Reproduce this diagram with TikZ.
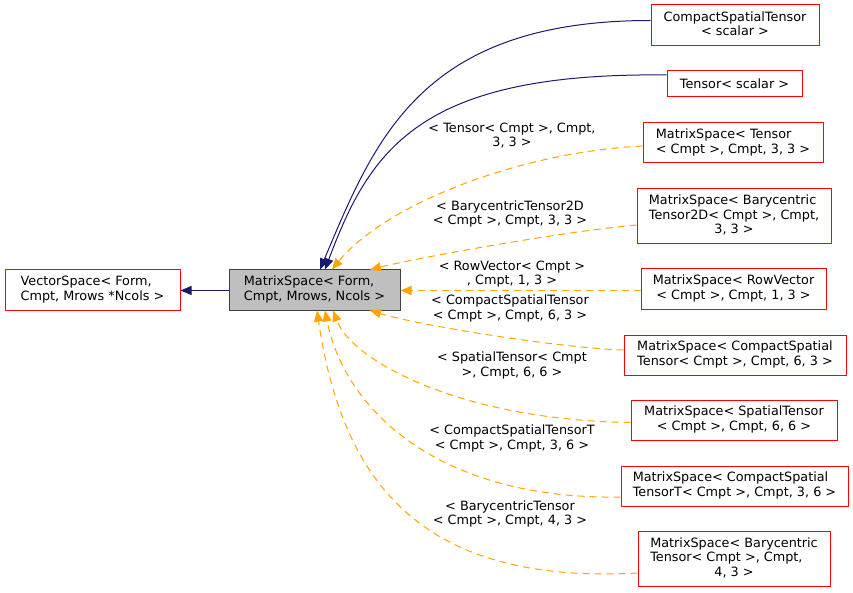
\documentclass[tikz,border=0pt]{standalone}
\usepackage{fontspec}
\setmainfont{DejaVu Sans}
\usetikzlibrary{arrows.meta,calc}
\definecolor{edgeblue}{HTML}{191970}
\definecolor{edgeorange}{HTML}{FFA500}
\definecolor{mainfill}{HTML}{BFBFBF}
\definecolor{mainborder}{HTML}{404040}
\newcommand{\dxbox}[1]{\begin{tabular}{@{}l@{}}#1\end{tabular}}
\newcommand{\dxc}[1]{\multicolumn{1}{@{}c@{}}{#1}}
\begin{document}
\begin{tikzpicture}[x=1pt,y=-1pt,
  every node/.style={font=\fontsize{12.8}{14.5}\selectfont},
  cls/.style={draw=red, line width=1pt, inner sep=0pt},
  basecls/.style={draw=mainborder, fill=mainfill, line width=1pt, inner sep=0pt},
  lbl/.style={align=center, inner sep=0pt},
  inh/.style={draw=edgeblue, line width=1pt, -{Triangle[length=11pt,width=9pt]}},
  tmpl/.style={draw=edgeorange, line width=1pt, dash pattern=on 7pt off 5pt, -{Triangle[length=11pt,width=9pt]}}]
\useasboundingbox (0,0) rectangle (853,593);

% nodes
\node[basecls, minimum width=171pt, minimum height=40pt] (main) at (314.5,290)
  {\dxbox{MatrixSpace< Form,\\\dxc{Cmpt, Mrows, Ncols >}}};
\node[cls, minimum width=175pt, minimum height=40pt] (vs) at (92.5,290)
  {\dxbox{VectorSpace< Form,\\\dxc{Cmpt, Mrows *Ncols >}}};
\node[cls, minimum width=168pt, minimum height=41pt] (cst) at (735,25.5)
  {\dxbox{CompactSpatialTensor\\\dxc{< scalar >}}};
\node[cls, minimum width=135pt, minimum height=26pt] (ts) at (734.5,84)
  {Tensor< scalar >};
\node[cls, minimum width=180pt, minimum height=40pt] (m1) at (733,143)
  {\dxbox{MatrixSpace< Tensor\\\dxc{< Cmpt >, Cmpt, 3, 3 >}}};
\node[cls, minimum width=194pt, minimum height=55pt] (m2) at (734,216.5)
  {\dxbox{MatrixSpace< Barycentric\\Tensor2D< Cmpt >, Cmpt,\\\dxc{3, 3 >}}};
\node[cls, minimum width=185pt, minimum height=40pt] (m3) at (733.5,289)
  {\dxbox{MatrixSpace< RowVector\\\dxc{< Cmpt >, Cmpt, 1, 3 >}}};
\node[cls, minimum width=222pt, minimum height=40pt] (m4) at (735,355)
  {\dxbox{MatrixSpace< CompactSpatial\\\dxc{Tensor< Cmpt >, Cmpt, 6, 3 >}}};
\node[cls, minimum width=206pt, minimum height=40pt] (m5) at (734,420)
  {\dxbox{MatrixSpace< SpatialTensor\\\dxc{< Cmpt >, Cmpt, 6, 6 >}}};
\node[cls, minimum width=227pt, minimum height=40pt] (m6) at (734.5,486)
  {\dxbox{MatrixSpace< CompactSpatial\\\dxc{TensorT< Cmpt >, Cmpt, 3, 6 >}}};
\node[cls, minimum width=192pt, minimum height=55pt] (m7) at (734,559)
  {\dxbox{MatrixSpace< Barycentric\\Tensor< Cmpt >, Cmpt,\\\dxc{4, 3 >}}};

% edge labels
\node[lbl] (l1) at (512,135.5) {< Tensor< Cmpt >, Cmpt,\\3, 3 >};
\node[lbl] (l2) at (510,214) {< BarycentricTensor2D\\< Cmpt >, Cmpt, 3, 3 >};
\node[lbl] (l3) at (512,274) {< RowVector< Cmpt >\\, Cmpt, 1, 3 >};
\node[lbl] (l4) at (510,308.5) {< CompactSpatialTensor\\< Cmpt >, Cmpt, 6, 3 >};
\node[lbl] (l5) at (512,365.5) {< SpatialTensor< Cmpt\\>, Cmpt, 6, 6 >};
\node[lbl] (l6) at (512,438.5) {< CompactSpatialTensorT\\< Cmpt >, Cmpt, 3, 6 >};
\node[lbl] (l7) at (510,514) {< BarycentricTensor\\< Cmpt >, Cmpt, 4, 3 >};

% edges
\draw[inh] ([yshift=-0.5pt]main.west) -- ([yshift=-0.5pt]vs.east);
\draw[inh] ([yshift=5pt]cst.west) .. controls +(-230,0) and +(55,-130) .. ([xshift=5.5pt]main.north);
\draw[inh] ([yshift=9pt]ts.west) .. controls +(-247,-3) and +(45,-120) .. ([xshift=10.5pt]main.north);
\draw[tmpl] ([yshift=-3pt]m1.west) .. controls +(-123,6) and +(53,-65) .. ([xshift=17.5pt]main.north);
\draw[tmpl] ([yshift=-8.5pt]m2.west) .. controls +(-77,7) and +(50,-12) .. ([xshift=55.5pt]main.north);
\draw[tmpl] ([yshift=-0.5pt]m3.west |- main.east) -- ([yshift=-0.5pt]main.east);
\draw[tmpl] ([yshift=5pt]m4.west) .. controls +(-64,-2) and +(50,15) .. ([xshift=55.5pt]main.south);
\draw[tmpl] ([yshift=-2.5pt]m5.west) .. controls +(-171,-2.5) and +(19,50) .. ([xshift=18.5pt]main.south);
\draw[tmpl] ([yshift=-11pt]m6.west) .. controls +(-181,3) and +(20,100) .. ([xshift=10.5pt]main.south);
\draw[tmpl] ([yshift=-14pt]m7.west) .. controls +(-218,12) and +(25,170) .. ([xshift=2.5pt]main.south);
\end{tikzpicture}
\end{document}
